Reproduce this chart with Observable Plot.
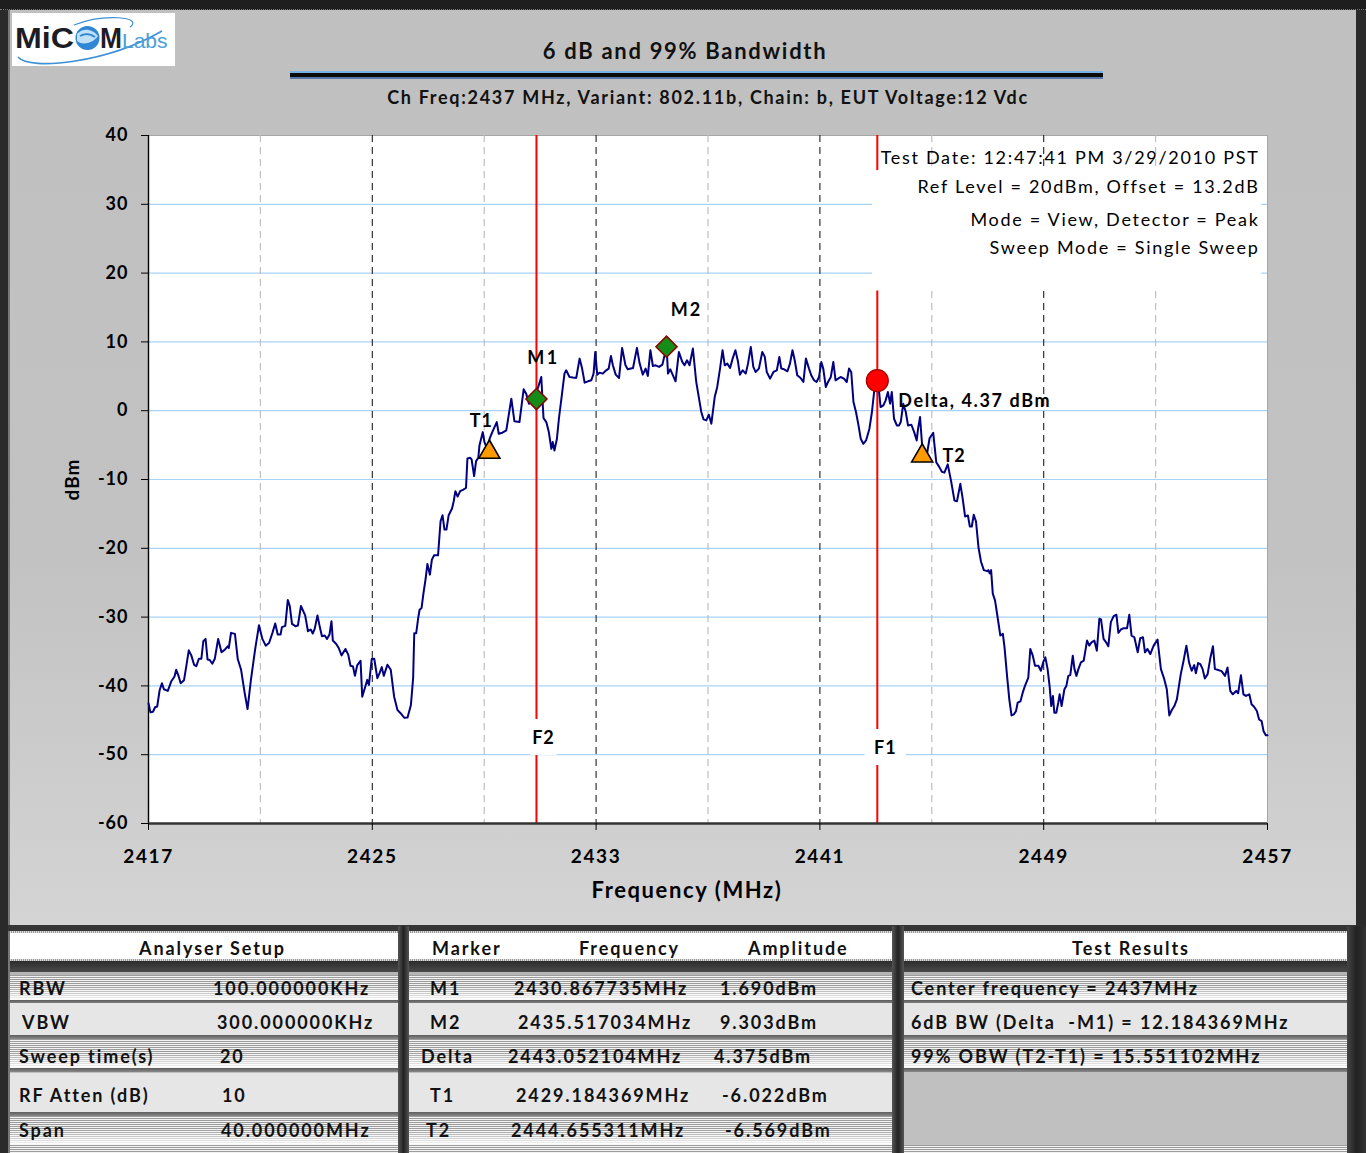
<!DOCTYPE html>
<html><head><meta charset="utf-8">
<script src="https://cdn.jsdelivr.net/npm/d3@7"></script>
<script src="https://cdn.jsdelivr.net/npm/@observablehq/plot@0.6"></script>
<style>
html,body{margin:0;padding:0;}
body{width:1366px;height:1153px;position:relative;overflow:hidden;background:#c0c0c0;font-family:Lato,"Open Sans",sans-serif;color:#111;}
.abs{position:absolute;}
#chartbg{left:0;top:0;width:1366px;height:925px;background:linear-gradient(#c0c0c0 0%,#c2c2c2 60%,#d4d4d4 100%);}
#topbar{left:0;top:0;width:1366px;height:9px;background:#1e1e1e;border-bottom:1px dotted #777;}
#leftbar{left:0;top:10px;width:8px;height:1143px;background:#2a2a2a;border-right:2px solid #777;}
#rightbar{left:1356px;top:10px;width:10px;height:1143px;background:#2a2a2a;}
#logo{left:12px;top:13px;width:163px;height:53px;background:#fff;}
#title{left:0;width:1370px;top:37px;text-align:center;font-weight:bold;font-size:22px;letter-spacing:1.7px;}
#subtitle{left:0;width:1416px;top:86px;text-align:center;font-weight:bold;font-size:18px;letter-spacing:1.7px;}
.tline{left:290px;width:813px;}
#plotwrap{left:0;top:110px;width:1366px;height:800px;}
.tt{position:absolute;font-weight:bold;font-size:18px;letter-spacing:1.9px;line-height:22px;white-space:pre;}
.striped{background:linear-gradient(rgba(255,255,255,0) 0%,rgba(255,255,255,0) 45%,rgba(255,255,255,.95) 100%),repeating-linear-gradient(#9c9c9c 0px,#9c9c9c 1px,#f2f2f2 1px,#f2f2f2 2px);}
.light{background:#e6e6e6;}
</style></head>
<body>
<div id="chartbg" class="abs"></div>
<div id="topbar" class="abs"></div>
<div id="leftbar" class="abs"></div>
<div id="rightbar" class="abs"></div>
<div id="logo" class="abs">
  <svg width="163" height="53" style="position:absolute;left:0;top:0">
    <path d="M6,44 C18,58 95,50 150,18" fill="none" stroke="#3d8fd6" stroke-width="1.6"/>
    <path d="M62,12 C92,0 132,4 118,14" fill="none" stroke="#3d8fd6" stroke-width="1.2"/>
    <text x="3" y="35" textLength="59" lengthAdjust="spacingAndGlyphs" font-family="Liberation Sans, Arial, sans-serif" font-weight="bold" font-size="29" fill="#1c1c24">MiC</text>
    <circle cx="75.5" cy="25" r="12" fill="#2f86d4"/>
    <path d="M65,21 C71,14 81,16 86,23 C81,30 71,33 65,28 Z" fill="#bfe0f7"/>
    <path d="M68,23 C73,20 79,21 83,24" fill="none" stroke="#2f86d4" stroke-width="2"/>
    <text x="88" y="35" textLength="22" lengthAdjust="spacingAndGlyphs" font-family="Liberation Sans, Arial, sans-serif" font-weight="bold" font-size="29" fill="#1c1c24">M</text>
    <text x="110" y="35" font-family="Liberation Sans, Arial, sans-serif" font-size="21" fill="#4a9ed8">Labs</text>
  </svg>
</div>
<div id="title" class="abs">6 dB and 99% Bandwidth</div>
<div class="abs tline" style="top:71px;height:2px;background:#79b2e6"></div>
<div class="abs tline" style="top:73px;height:4px;background:#0a0a0a"></div>
<div class="abs tline" style="top:77px;height:2px;background:#5675a8"></div>
<div id="subtitle" class="abs">Ch Freq:2437 MHz, Variant: 802.11b, Chain: b, EUT Voltage:12 Vdc</div>
<div id="plotwrap" class="abs"></div>
<div id="tables" class="abs" style="left:0;top:0;width:1366px;height:1153px"></div>
<script>
// ---------- DATA ----------
const traceFreq = [
2417.00,2417.07,2417.16,2417.24,2417.31,2417.40,2417.48,2417.55,2417.69,2417.81,2417.93,2417.99,2418.08,2418.15,2418.27,2418.35,2418.44,2418.53,2418.63,2418.71,
2418.80,2418.89,2418.96,2419.04,2419.11,2419.19,2419.28,2419.37,2419.49,2419.61,2419.73,2419.83,2419.87,2419.95,2420.09,2420.19,2420.31,2420.43,2420.54,2420.66,
2420.81,2420.95,2421.07,2421.19,2421.31,2421.43,2421.53,2421.62,2421.72,2421.77,2421.89,2421.98,2422.05,2422.13,2422.25,2422.34,2422.45,2422.60,2422.70,2422.80,
2422.87,2422.94,2423.04,2423.13,2423.20,2423.30,2423.38,2423.47,2423.54,2423.59,2423.71,2423.80,2423.90,2424.04,2424.14,2424.22,2424.31,2424.38,2424.46,2424.58,
2424.64,2424.74,2424.82,2424.88,2424.98,2425.07,2425.18,2425.26,2425.34,2425.41,2425.54,2425.66,2425.78,2425.90,2426.02,2426.14,2426.26,2426.38,2426.46,
2426.50,2426.57,2426.64,2426.69,2426.76,2426.83,2426.91,2426.97,2427.06,2427.13,2427.21,2427.35,2427.44,2427.51,2427.58,2427.65,2427.73,2427.85,2427.91,2427.97,
2428.05,2428.14,2428.26,2428.35,2428.40,2428.50,2428.55,2428.64,2428.71,2428.79,
2428.83,2428.95,2429.01,2429.10,2429.20,2429.30,2429.45,2429.52,2429.65,2429.79,2429.97,2430.08,2430.26,2430.41,2430.50,2430.60,2430.79,2430.95,2431.04,2431.12,
2431.22,2431.31,2431.40,2431.45,2431.51,2431.60,2431.67,2431.79,2431.87,2431.93,2432.05,2432.17,2432.29,2432.41,2432.50,2432.59,2432.71,2432.83,2432.91,2432.97,
2433.04,2433.12,2433.24,2433.36,2433.45,2433.53,2433.60,2433.70,2433.82,2433.93,2434.05,2434.13,2434.32,2434.46,2434.55,2434.67,2434.77,2434.85,2434.94,2435.03,
2435.13,2435.25,2435.37,2435.52,2435.57,2435.65,2435.72,2435.84,2435.96,2436.08,2436.16,2436.25,2436.34,2436.46,2436.58,2436.68,2436.76,2436.84,2436.94,2437.03,
2437.12,2437.24,2437.33,2437.43,2437.52,2437.60,2437.69,2437.79,2437.88,2437.98,2438.07,2438.14,2438.24,2438.35,2438.43,2438.53,2438.62,2438.70,2438.82,2438.94,
2439.03,2439.10,2439.22,2439.34,2439.46,2439.55,2439.62,2439.72,2439.84,2439.93,2440.02,2440.10,2440.19,2440.31,2440.41,2440.50,2440.61,2440.69,2440.79,2440.88,
2440.97,2441.05,2441.12,2441.21,2441.29,2441.39,2441.48,2441.56,2441.65,2441.74,2441.86,2441.96,2442.04,2442.12,2442.20,2442.29,2442.38,2442.46,2442.55,2442.65,
2442.77,2442.86,2442.94,2443.05,2443.11,2443.17,2443.27,2443.35,2443.43,2443.51,2443.57,2443.65,2443.75,2443.83,2443.89,2443.98,2444.07,2444.15,2444.27,2444.37,
2444.46,2444.51,2444.58,2444.65,2444.70,2444.82,2444.92,2445.05,2445.16,2445.27,2445.36,2445.45,2445.57,2445.69,2445.81,2445.90,2446.02,2446.10,2446.19,2446.29,
2446.36,2446.43,2446.50,2446.58,2446.67,2446.76,2446.86,2446.98,2447.02,2447.07,2447.12,2447.18,2447.26,2447.36,2447.45,2447.54,2447.60,2447.69,2447.77,2447.85,
2447.93,2448.01,2448.07,2448.17,2448.25,2448.33,2448.45,2448.52,2448.61,2448.69,2448.81,2448.90,2448.98,2449.06,2449.14,2449.21,2449.27,2449.33,2449.38,2449.45,
2449.52,2449.57,2449.64,2449.74,2449.81,2449.88,2449.95,2450.04,2450.10,2450.17,2450.24,2450.33,2450.43,2450.48,2450.55,2450.63,2450.71,2450.81,2450.90,2450.99,
2451.05,2451.14,2451.23,2451.31,2451.40,2451.50,2451.60,2451.67,2451.76,2451.86,2451.98,2452.06,2452.14,2452.24,2452.36,2452.45,2452.55,2452.62,2452.71,2452.81,
2452.93,2453.07,2453.19,2453.31,2453.40,2453.49,2453.58,2453.67,2453.76,2453.90,2454.00,2454.10,2454.20,2454.29,2454.38,2454.44,2454.52,2454.60,2454.68,2454.76,
2454.86,2454.95,2455.05,2455.12,2455.21,2455.36,2455.48,2455.57,2455.67,2455.76,2455.88,2455.95,2456.05,2456.14,2456.23,2456.35,2456.43,2456.52,2456.62,2456.70,
2456.79,2456.86,2456.94,2457.00];
const traceDbm = [
-42.54,-43.85,-43.76,-43.07,-43.02,-40.59,-39.61,-40.49,-40.73,-39.37,-38.63,-37.66,-38.63,-39.61,-39.17,-37.17,-34.83,-35.56,-36.93,-37.12,
-36.05,-36.05,-33.51,-33.17,-36.15,-36.24,-36.78,-36.05,-33.17,-35.12,-34.73,-34.24,-34.49,-32.29,-32.44,-36.10,-37.66,-40.83,-43.37,-39.17,
-34.73,-31.17,-33.17,-34.15,-33.76,-32.29,-30.93,-32.54,-32.54,-31.46,-31.27,-27.51,-28.39,-30.98,-31.32,-31.22,-28.39,-29.76,-32.05,-31.80,
-32.39,-31.71,-29.76,-31.56,-32.78,-32.68,-33.17,-32.54,-30.59,-33.41,-33.90,-34.49,-35.56,-34.63,-35.46,-37.07,-37.17,-38.54,-37.02,-36.34,
-41.56,-40.24,-39.12,-39.85,-36.10,-36.05,-38.88,-38.15,-37.27,-38.54,-36.93,-37.66,-41.56,-43.51,-44.00,-44.63,-44.59,-42.78,-38.88,
-32.33,-32.33,-30.15,-28.93,-28.69,-26.50,-24.32,-22.28,-23.83,-21.65,-21.02,-21.02,-16.07,-15.19,-17.28,-17.28,-15.19,-14.22,-13.16,-11.70,
-12.48,-11.70,-11.46,-11.21,-6.94,-6.84,-7.09,-9.51,-7.33,-6.84,
-5.05,-3.11,-4.56,-5.53,-4.00,-3.00,-1.65,-3.35,-3.20,-2.86,1.75,-1.55,-1.65,3.11,2.48,1.02,1.75,3.69,4.90,-1.07,
-1.65,-3.11,-5.53,-4.56,-5.78,-4.08,-1.17,2.72,5.39,5.87,4.90,4.81,4.76,7.57,6.12,4.08,4.27,4.42,5.39,8.54,
5.24,5.53,5.39,5.87,6.12,7.96,6.60,5.24,4.76,9.13,6.60,6.02,6.21,9.13,6.99,5.24,6.12,5.05,8.79,6.50,
6.60,6.36,6.70,9.30,5.39,6.02,5.39,4.27,8.54,7.09,6.60,7.33,6.60,9.03,4.17,1.75,-0.19,-1.26,-1.41,-0.58,
-1.89,1.99,3.45,6.12,8.79,6.60,6.84,6.21,7.57,8.79,7.18,5.24,5.87,5.39,6.84,9.27,6.36,5.63,6.12,8.54,
7.82,5.63,4.66,5.63,5.87,7.82,6.12,6.02,5.73,6.84,8.79,7.33,5.15,4.76,4.17,7.57,6.12,5.15,4.42,4.17,
4.90,7.09,6.12,3.45,4.17,4.90,7.09,4.42,4.66,4.90,4.66,4.17,6.12,5.63,1.26,-0.19,-2.14,-4.08,-4.81,-4.32,
-2.62,-0.19,2.82,4.38,2.96,0.53,0.78,1.50,2.72,1.02,2.72,-1.17,-2.14,-2.14,-1.65,1.02,-0.19,-2.14,-2.04,-3.11,
-4.32,-2.62,-0.92,-4.81,-6.80,-6.50,-4.00,-3.20,-7.50,-8.20,-8.88,-9.00,-7.80,-10.24,-13.07,-13.17,-10.63,-12.68,-15.37,-15.22,
-16.83,-16.83,-15.12,-16.10,-19.90,-21.95,-23.17,-23.32,-23.17,-23.66,-23.17,-26.59,-27.56,-30.24,-32.68,-32.44,-34.39,-38.54,-41.95,-44.29,
-44.15,-43.66,-42.44,-42.24,-40.98,-40.00,-38.78,-34.63,-35.61,-37.07,-37.07,-37.80,-36.59,-35.85,-37.56,-40.00,-42.93,-41.46,-43.90,-43.90,
-42.44,-41.22,-42.93,-40.49,-40.00,-38.54,-38.44,-35.61,-37.56,-38.54,-37.56,-36.59,-36.34,-35.12,-33.41,-34.15,-33.66,-33.41,-34.88,-30.24,
-30.34,-33.17,-33.66,-34.24,-30.73,-29.85,-29.66,-32.29,-31.80,-31.61,-31.61,-29.66,-32.68,-32.93,-35.12,-33.07,-32.93,-35.12,-34.63,-35.37,
-34.15,-33.27,-37.56,-39.02,-40.49,-44.29,-43.51,-42.93,-41.95,-38.29,-36.34,-34.15,-36.68,-37.80,-36.98,-38.15,-36.68,-36.83,-37.56,-38.93,
-38.29,-36.10,-34.24,-37.56,-37.66,-37.85,-38.54,-37.32,-40.73,-41.22,-40.73,-41.07,-38.44,-41.22,-41.46,-41.22,-42.68,-43.02,-43.66,-44.88,
-45.12,-46.59,-47.17,-47.17];

const xTicks = [2417, 2425, 2433, 2441, 2449, 2457];
const xMinorGrid = [2421, 2429, 2437, 2445, 2453];
const xMajorGrid = [2425, 2433, 2441, 2449];
const yTicks = [-60, -50, -40, -30, -20, -10, 0, 10, 20, 30, 40];
const yGrid = [-50, -40, -30, -20, -10, 0, 10, 20, 30];

const markerNames = ["M1", "M2", "Delta", "T1", "T2"];
const markerFreqs = [2430.867735, 2435.517034, 2443.052104, 2429.184369, 2444.655311];
const markerAmps = [1.690, 9.303, 4.375, -6.022, -6.569];
const bandLines = [{name: "F2", freq: 2430.867735}, {name: "F1", freq: 2443.052104}];

const noteLines = ["Test Date: 12:47:41 PM 3/29/2010 PST", "Ref Level = 20dBm, Offset = 13.2dB", "Mode = View, Detector = Peak", "Sweep Mode = Single Sweep"];
const noteBox = [{x1: 2442.88, x2: 2456.8, y1: 17.4, y2: 34.9}];

const analyserLabels = ["RBW", "VBW", "Sweep time(s)", "RF Atten (dB)", "Span"];
const analyserValues = ["100.000000KHz", "300.000000KHz", "20", "10", "40.000000MHz"];
const resultLines = ["Center frequency = 2437MHz", "6dB BW (Delta  -M1) = 12.184369MHz", "99% OBW (T2-T1) = 15.551102MHz"];

// ---------- PLOT ----------
const trace = traceFreq.map((f, i) => ({f, dBm: traceDbm[i]}));
const markers = markerNames.map((name, i) => ({name, f: markerFreqs[i], dBm: markerAmps[i]}));
const byName = n => markers.filter(m => m.name === n);
const deltaText = d => `Delta, ${Math.floor(d.dBm * 100) / 100} dBm`;

const noteDy = [23, 52, 85, 113];

const plot = Plot.plot({
  width: 1366, height: 800,
  marginLeft: 148, marginRight: 99, marginTop: 25, marginBottom: 87,
  x: {domain: [2417, 2457]},
  y: {domain: [-60, 40]},
  style: {background: "transparent", fontFamily: "Lato, 'Open Sans', sans-serif", fontSize: "18px", fontWeight: "bold", color: "#000", letterSpacing: "1px", overflow: "visible"},
  marks: [
    Plot.frame({fill: "white", stroke: "#a6a6a6"}),
    Plot.ruleY(yGrid, {stroke: "#a8d2f7", strokeWidth: 1.2}),
    Plot.ruleX(xMinorGrid, {stroke: "#bfbfbf", strokeWidth: 1.2, strokeDasharray: "7,5"}),
    Plot.ruleX(xMajorGrid, {stroke: "#222", strokeWidth: 1.1, strokeDasharray: "7,5"}),
    Plot.ruleX(bandLines, {x: "freq", stroke: "#ff0000", strokeWidth: 2}),
    Plot.rect(noteBox, {x1: "x1", x2: "x2", y1: "y1", y2: "y2", fill: "white"}),
    Plot.ruleX([2417], {stroke: "#000", strokeWidth: 1.4}),
    Plot.ruleY([-60], {stroke: "#333", strokeWidth: 2.6}),
    Plot.axisY({ticks: yTicks, tickSize: 7, tickPadding: 13, label: null, fontSize: 18, tickFormat: d => String(d)}),
    Plot.axisX({ticks: xTicks, tickSize: 7, tickPadding: 19, label: null, fontSize: 19, tickFormat: d => String(d)}),
    Plot.line(trace, {x: "f", y: "dBm", stroke: "#000080", strokeWidth: 2}),
    Plot.dot(byName("M1").concat(byName("M2")), {x: "f", y: "dBm", symbol: "diamond2", r: 9.5, fill: "#158c15", stroke: "#8b0000", strokeWidth: 1.5}),
    Plot.dot(byName("T1").concat(byName("T2")), {x: "f", y: "dBm", symbol: "triangle", r: 7.8, fill: "#ff9a00", stroke: "#000", strokeWidth: 1.6}),
    Plot.dot(byName("Delta"), {x: "f", y: "dBm", symbol: "circle", r: 11, fill: "#ff0000", stroke: "#a00000", strokeWidth: 1.2}),
    Plot.text(byName("M1"), {x: "f", y: "dBm", text: "name", dx: 7, dy: -41, fontSize: 18}),
    Plot.text(byName("M2"), {x: "f", y: "dBm", text: "name", dx: 20, dy: -36, fontSize: 18}),
    Plot.text(byName("T1"), {x: "f", y: "dBm", text: "name", dx: -8, dy: -31, fontSize: 18}),
    Plot.text(byName("T2"), {x: "f", y: "dBm", text: "name", dx: 32, dy: 0, fontSize: 18}),
    Plot.text(byName("Delta"), {x: "f", y: "dBm", text: deltaText, dx: 21, dy: 21, textAnchor: "start", fontSize: 18}),
    Plot.text(bandLines.slice(0, 1), {x: "freq", text: "name", frameAnchor: "bottom", lineAnchor: "middle", dx: 7, dy: -85, fontSize: 18, stroke: "white", strokeWidth: 22, fill: "#000"}),
    Plot.text(bandLines.slice(1), {x: "freq", text: "name", frameAnchor: "bottom", lineAnchor: "middle", dx: 8, dy: -75, fontSize: 18, stroke: "white", strokeWidth: 22, fill: "#000"}),
    ...noteLines.map((t, i) => Plot.text([t], {text: d => d, frameAnchor: "top-right", textAnchor: "end", lineAnchor: "middle", dx: -8, dy: noteDy[i], fontSize: 18, fontWeight: "normal"})),
    Plot.text(["Frequency (MHz)"], {text: d => d, frameAnchor: "bottom", lineAnchor: "middle", dx: -21, dy: 67, fontSize: 22}),
    Plot.text(["dBm"], {text: d => d, frameAnchor: "left", textAnchor: "middle", lineAnchor: "middle", dx: -76, rotate: -90, fontSize: 19})
  ]
});
// letter spacing tweaks, matched by text content
const spacing = new Map([
  ...noteLines.map(t => [t, "1.7px"]),
  [deltaText(byName("Delta")[0]), "1.6px"],
  ["M1", "2.5px"], ["M2", "2px"],
  ["Frequency (MHz)", "1.6px"]
]);
d3.select(plot).selectAll("text").each(function () {
  const s = spacing.get(this.textContent);
  if (s) this.style.letterSpacing = s;
});
d3.select(plot).selectAll('[aria-label="x-axis tick label"]').style("letter-spacing", "1.6px");
document.getElementById("plotwrap").appendChild(plot);

// ---------- TABLES ----------
const T = document.getElementById("tables");
function box(l, t, w, h, css) {
  const d = document.createElement("div");
  d.className = "abs";
  d.style.cssText = `left:${l}px;top:${t}px;width:${w}px;height:${h}px;${css || ""}`;
  T.appendChild(d); return d;
}
function txt(s, l, cy, extra) {
  const d = document.createElement("div");
  d.className = "tt";
  d.textContent = s;
  d.style.left = l + "px"; d.style.top = (cy - 11) + "px";
  if (extra) d.style.cssText += extra;
  T.appendChild(d); return d;
}
box(8, 925, 1348, 6, "background:#353535");
const panels = [[10, 389], [409, 483], [904, 444]];
const rowSpans = [[975, 25], [1003, 32], [1039, 29], [1073, 39], [1116, 29]];
const rowKind = ["striped", "light", "striped", "light", "striped"];
panels.forEach(([l, w], pi) => {
  box(l, 931, w, 2, "background:repeating-linear-gradient(90deg,#ddd 0 1px,#999 1px 2px)");
  box(l, 933, w, 26, "background:#fff");
  box(l, 959, w, 2, "background:repeating-linear-gradient(90deg,#ddd 0 1px,#999 1px 2px)");
  box(l, 961, w, 11, "background:linear-gradient(#2c2c2c,#4a4a4a)");
  box(l, 972, w, 3, "background:#b5b5b5");
  const nRows = pi === 2 ? 3 : 5;
  for (let r = 0; r < nRows; r++) {
    const [t, h] = rowSpans[r];
    const d = box(l, t, w, h);
    d.className = "abs " + rowKind[r];
    box(l, t + h, w, r === 4 ? 2 : 4, "background:linear-gradient(#5c5c5c,#8a8a8a)");
  }
  box(l, 1145, w, 8, "background:repeating-linear-gradient(#9c9c9c 0px,#9c9c9c 1px,#f2f2f2 1px,#f2f2f2 2px)");
});
box(398, 926, 11, 227, "background:linear-gradient(90deg,#555,#222,#555)");
box(892, 926, 12, 227, "background:linear-gradient(90deg,#555,#222,#555)");
box(1347, 926, 19, 227, "background:linear-gradient(90deg,#444,#222,#333)");

txt("Analyser Setup", 18, 948, "width:389px;text-align:center;");
txt("Marker", 432, 948);
txt("Frequency", 579, 948);
txt("Amplitude", 748, 948);
txt("Test Results", 904, 948, "width:454px;text-align:center;");

const rowCy = [988, 1022, 1056, 1095, 1130];
const aLabX = [19, 22, 19, 19, 19];
const aValX = [213, 217, 220, 222, 221];
analyserLabels.forEach((s, i) => { txt(s, aLabX[i], rowCy[i]); txt(analyserValues[i], aValX[i], rowCy[i]); });

const mNameX = [430, 430, 421, 430, 426];
const mFreqX = [514, 518, 508, 516, 511];
const mAmpX = [720, 720, 714, 722, 725];
markerNames.forEach((n, i) => {
  txt(n, mNameX[i], rowCy[i]);
  txt(markerFreqs[i].toFixed(6) + "MHz", mFreqX[i], rowCy[i]);
  txt(markerAmps[i].toFixed(3) + "dBm", mAmpX[i], rowCy[i]);
});
resultLines.forEach((s, i) => txt(s, 911, rowCy[i]));
</script>
</body></html>
